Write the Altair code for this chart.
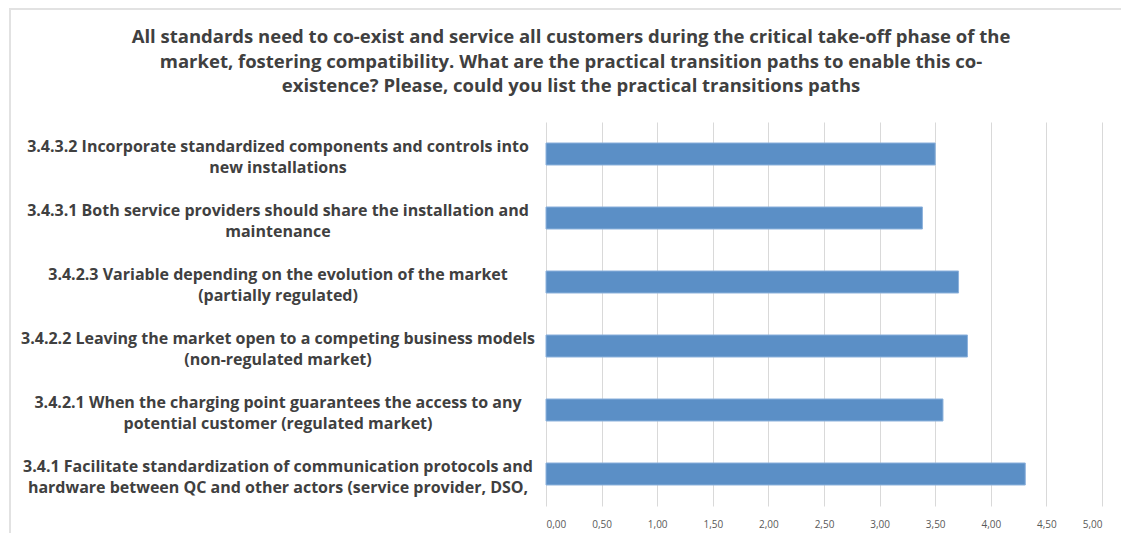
import altair as alt
import pandas as pd

categories = [
    "3.4.3.2 Incorporate standardized components and controls into\nnew installations",
    "3.4.3.1 Both service providers should share the installation and\nmaintenance",
    "3.4.2.3 Variable depending on the evolution of the market\n(partially regulated)",
    "3.4.2.2 Leaving the market open to a competing business models\n(non-regulated market)",
    "3.4.2.1 When the charging point guarantees the access to any\npotential customer (regulated market)",
    "3.4.1 Facilitate standardization of communication protocols and\nhardware between QC and other actors (service provider, DSO,",
]
values = [3.50, 3.385, 3.71, 3.79, 3.57, 4.31]
tick_values = [0, 0.5, 1, 1.5, 2, 2.5, 3, 3.5, 4, 4.5, 5]
title_lines = [
    "All standards need to co-exist and service all customers during the critical take-off phase of the",
    "market, fostering compatibility. What are the practical transition paths to enable this co-",
    "existence? Please, could you list the practical transitions paths",
]

df = pd.DataFrame({"cat": categories, "value": values})

FONT = "Open Sans"
W, H = 556, 384

yscale = alt.Scale(domain=categories, paddingInner=0.656, paddingOuter=0.328)

bars = alt.Chart(df).mark_bar(color="#5b8fc6", stroke="#8db2dc", strokeWidth=1).encode(
    x=alt.X("value:Q", scale=alt.Scale(domain=[0, 5], nice=False),
            axis=alt.Axis(values=tick_values, title=None, domain=False, ticks=False,
                          grid=True, gridColor="#d9d9d9", gridWidth=1,
                          labelExpr="replace(format(datum.value, '.2f'), '.', ',')",
                          labelFont=FONT, labelFontSize=10, labelColor="#595959",
                          labelPadding=13)),
    y=alt.Y("cat:N", scale=yscale, axis=None),
)

labels = alt.Chart(df).mark_text(
    align="center", baseline="middle", font=FONT, fontSize=16, fontWeight="bold",
    color="#404040", lineBreak="\n", lineHeight=21, dy=-7
).encode(
    x=alt.value(-268),
    y=alt.Y("cat:N", scale=yscale, axis=None),
    text="cat:N",
)

title_df = pd.DataFrame({"line": title_lines, "i": [0, 1, 2]})
title = alt.Chart(title_df).mark_text(
    align="center", baseline="middle", font=FONT, fontSize=18.5, fontWeight="bold",
    color="#404040"
).encode(
    x=alt.value(25),
    y=alt.Y("i:Q", scale=alt.Scale(domain=[0, 2], range=[-85, -36]), axis=None),
    text="line:N",
)

frame_df = pd.DataFrame({"side": ["left", "top"]})
frame_left = alt.Chart(frame_df).transform_filter("datum.side == 'left'").mark_rule(
    color="#e2e2e2", strokeWidth=2
).encode(
    x=alt.value(-536), y=alt.value(-113), y2=alt.value(411)
)
frame_top = alt.Chart(frame_df).transform_filter("datum.side == 'top'").mark_rule(
    color="#e2e2e2", strokeWidth=2
).encode(
    x=alt.value(-537), x2=alt.value(580), y=alt.value(-113)
)

chart = alt.layer(title, labels, bars, frame_left, frame_top).resolve_scale(
    y="independent"
).properties(
    width=W, height=H,
    background="white",
    autosize=alt.AutoSizeParams(type="none"),
    padding={"left": 538, "top": 114, "right": 19, "bottom": 27},
).configure_view(strokeWidth=0)

chart.save("out.html", embed_options={"renderer": "svg", "actions": False})
